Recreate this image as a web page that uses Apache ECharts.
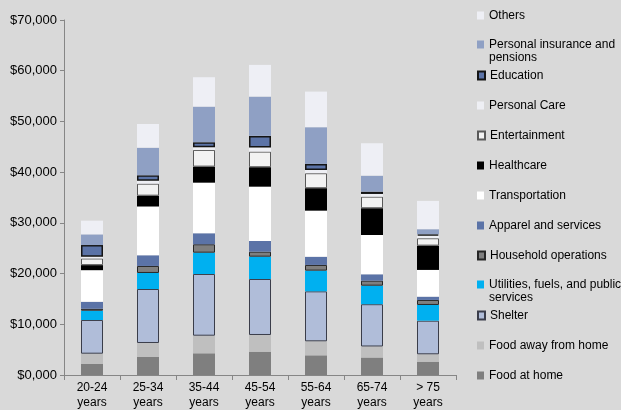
<!DOCTYPE html>
<html>
<head>
<meta charset="utf-8">
<script src="https://cdn.jsdelivr.net/npm/echarts@6/dist/echarts.min.js"></script>
<style>
html,body{margin:0;padding:0;background:#d9d9d9;}
#chart{width:621px;height:410px;}
</style>
</head>
<body>
<div id="chart"></div>
<script>
const categories = ['20-24', '25-34', '35-44', '45-54', '55-64', '65-74', '> 75'];
const yTicks = [0, 10000, 20000, 30000, 40000, 50000, 60000, 70000];

const foodAtHome      = [2230, 3550, 4280, 4600, 3880, 3450, 2620];
const foodAway        = [1970, 2760, 3470, 3290, 2760, 2170, 1460];
const shelter         = [6650, 10650, 12170, 11040, 9860, 8340, 6630];
const utilities       = [1830, 3160, 4200, 4400, 4080, 3650, 3100];
const household       = [380, 1380, 1660, 990, 1120, 990, 990];
const apparel         = [1380, 2110, 2170, 2110, 1640, 1260, 650];
const transportation  = [6230, 9620, 9980, 10710, 9070, 7750, 5270];
const healthcare      = [990, 2130, 3160, 3830, 4420, 5270, 4790];
const entertainment   = [1320, 2370, 3290, 3080, 2960, 2290, 1460];
const personalCare    = [350, 590, 530, 790, 650, 530, 510];
const education       = [2290, 1060, 990, 2310, 1180, 450, 280];
const insurance       = [2110, 5440, 7020, 7750, 7240, 3160, 990];
const others          = [2700, 4670, 5800, 6250, 7020, 6390, 5580];

const seriesNames = ['Food at home', 'Food away from home', 'Shelter',
  'Utilities, fuels, and public services', 'Household operations',
  'Apparel and services', 'Transportation', 'Healthcare', 'Entertainment',
  'Personal Care', 'Education', 'Personal insurance and pensions', 'Others'];
const seriesValues = [foodAtHome, foodAway, shelter, utilities, household,
  apparel, transportation, healthcare, entertainment, personalCare,
  education, insurance, others];

const styles = [
  {color: '#7f7f7f'},
  {color: '#bfbfbf'},
  {color: '#b0bdd9', borderColor: '#3a3d4a', borderWidth: 1},
  {color: '#00b0f0'},
  {color: '#7f7f7f', borderColor: '#262626', borderWidth: 1},
  {color: '#5b73a7'},
  {color: '#ffffff'},
  {color: '#000000'},
  {color: '#f2f2f2', borderColor: '#595959', borderWidth: 1},
  {color: '#eeeff4'},
  {color: '#5b73a7', borderColor: '#141414', borderWidth: 1.5},
  {color: '#8fa0c4'},
  {color: '#eeeff5'}
];

// blank first line so the first visible line sits level with the marker
const wrapped = {
  'Utilities, fuels, and public services': '\nUtilities, fuels, and public\nservices',
  'Personal insurance and pensions': '\nPersonal insurance and\npensions'
};

const chart = echarts.init(document.getElementById('chart'));

const legends = seriesNames.map((n, i) => {
  const k = seriesNames.length - 1 - i;
  const c = 15 + 30 * k;
  const multi = !!wrapped[n];
  return {
    data: [n],
    left: 477,
    top: multi ? c - 20 : c - 6,
    padding: 0,
    orient: 'vertical',
    icon: 'rect',
    itemWidth: 7,
    itemHeight: 8,
    selectedMode: false,
    formatter: (name) => wrapped[name] || name,
    textStyle: {
      fontSize: 12,
      color: '#000',
      fontFamily: 'Liberation Sans, Arial, sans-serif',
      lineHeight: multi ? 13 : 13
    }
  };
});

chart.setOption({
  backgroundColor: '#d9d9d9',
  animation: false,
  textStyle: {fontFamily: 'Liberation Sans, Arial, sans-serif'},
  grid: {left: 64, right: 165, top: 20, bottom: 35},
  legend: legends,
  xAxis: {
    type: 'category',
    data: categories,
    axisLine: {lineStyle: {color: '#868686', width: 1}},
    axisTick: {show: true, length: 5, lineStyle: {color: '#868686'}},
    axisLabel: {
      color: '#000', fontSize: 12, lineHeight: 15, margin: 5,
      formatter: (v) => v + '\nyears'
    }
  },
  yAxis: {
    type: 'value',
    min: yTicks[0],
    max: yTicks[yTicks.length - 1],
    interval: yTicks[1] - yTicks[0],
    axisLine: {show: true, lineStyle: {color: '#868686', width: 1}},
    axisTick: {show: true, length: 4, lineStyle: {color: '#868686'}},
    splitLine: {show: false},
    axisLabel: {
      color: '#000', fontSize: 13, margin: 7,
      formatter: (v) => v === 0 ? '$0,000' : '$' + v.toLocaleString('en-US')
    }
  },
  series: seriesNames.map((n, i) => ({
    name: n,
    type: 'bar',
    stack: 'total',
    barWidth: 22,
    data: seriesValues[i],
    itemStyle: styles[i],
    emphasis: {disabled: true}
  }))
});
</script>
</body>
</html>
